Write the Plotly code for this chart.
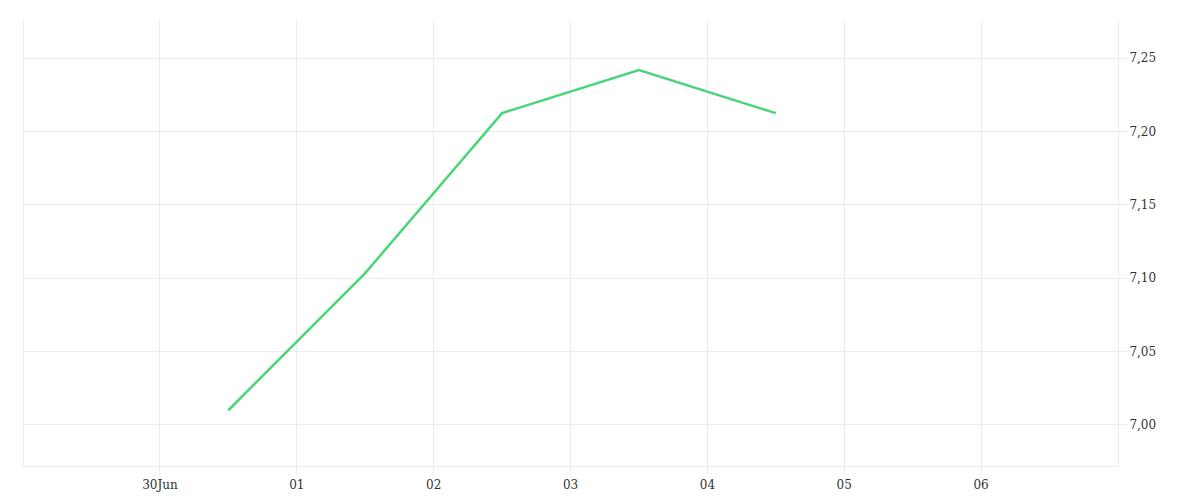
import plotly.graph_objects as go

dates = ["2023-06-30 12:00", "2023-07-01 12:00", "2023-07-02 12:00", "2023-07-03 12:00", "2023-07-04 12:00"]
values = [7.010, 7.1035, 7.2125, 7.2418, 7.2125]
tick_vals = ["2023-06-30", "2023-07-01", "2023-07-02", "2023-07-03", "2023-07-04", "2023-07-05", "2023-07-06"]
tick_text = ["30Jun", "01", "02", "03", "04", "05", "06"]

grid = "#ededed"
fig = go.Figure(go.Scatter(x=dates, y=values, mode="lines",
                           line=dict(color="#4cd47a", width=2.5), hoverinfo="x+y"))
fig.update_layout(
    width=1200, height=500, plot_bgcolor="white", paper_bgcolor="white",
    margin=dict(l=16, r=90, t=12, b=42), showlegend=False, separators=",.",
    font=dict(family="DejaVu Serif, Liberation Serif, serif", size=12, color="#333"),
)
fig.update_xaxes(type="date", range=["2023-06-29 00:10", "2023-07-07 00:00"],
                 tickvals=tick_vals, ticktext=tick_text, showgrid=True, gridcolor=grid,
                 showline=True, linecolor=grid, ticks="outside", ticklen=8, tickcolor=grid,
                 zeroline=False)
fig.update_yaxes(side="right", range=[6.972, 7.276], dtick=0.05, tickformat=".2f",
                 showgrid=True, gridcolor=grid, showline=True, linecolor=grid,
                 ticks="outside", ticklen=8, tickcolor=grid, zeroline=False, mirror=True)
fig.write_html("out.html")
